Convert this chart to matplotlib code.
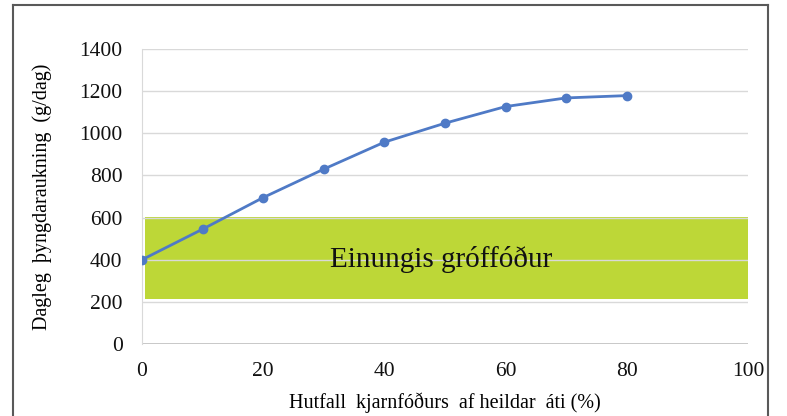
import matplotlib.pyplot as plt
from matplotlib.patches import Rectangle
from matplotlib.lines import Line2D

# data
hlutfall = [0, 10, 20, 30, 40, 50, 60, 70, 80]
thyngdaraukning = [400, 545, 695, 830, 958, 1048, 1127, 1168, 1179]

band_x = (0.5, 100)
band_y = (212, 602)
band_text = "Einungis gróffóður"

x_ticks = [0, 20, 40, 60, 80, 100]
y_ticks = [0, 200, 400, 600, 800, 1000, 1200, 1400]

plt.rcParams["font.family"] = ["Liberation Serif", "DejaVu Serif"]

fig = plt.figure(figsize=(7.87, 4.16), dpi=100)
ax = fig.add_axes([0.1804, 0.1731, 0.770, 0.709])

# outer frame of the chart area
for xs, ys in [([13/787, 13/787], [0, 1 - 5/416]),
               ([768/787, 768/787], [0, 1 - 5/416]),
               ([13/787, 768/787], [1 - 5/416, 1 - 5/416])]:
    fig.add_artist(Line2D(xs, ys, color="#595959", linewidth=1.5, transform=fig.transFigure))

ax.add_patch(Rectangle((band_x[0], band_y[0]), band_x[1] - band_x[0], band_y[1] - band_y[0],
                       facecolor="#BDD737", edgecolor="none", zorder=1))
for yv in y_ticks[1:]:
    ax.axhline(yv, color="#D9D9D9", linewidth=1.0, zorder=2)
ax.axhline(0, color="#BFBFBF", linewidth=1.2, zorder=2)

ax.text(49.3, 400, band_text, fontsize=21, ha="center", va="center", color="#111111", zorder=3)

ax.plot(hlutfall, thyngdaraukning, color="#4F7AC6", linewidth=2, marker="o",
        markersize=6, zorder=4)

ax.set_xlim(0, 100)
ax.set_ylim(0, 1400)
ax.set_xticks(x_ticks)
ax.set_yticks(y_ticks)
ax.tick_params(length=0, labelsize=15.5, colors="#111111")
ax.tick_params(axis="x", pad=13)
ax.tick_params(axis="y", pad=14)
for s in ["top", "right", "bottom"]:
    ax.spines[s].set_visible(False)
ax.spines["left"].set_color("#D9D9D9")

ax.set_xlabel("Hutfall  kjarnfóðurs  af heildar  áti (%)", fontsize=14.5, labelpad=8)
ax.set_ylabel("Dagleg  þyngdaraukning  (g/dag)", fontsize=14.5, labelpad=20)

fig.savefig("out.png", dpi=100)
